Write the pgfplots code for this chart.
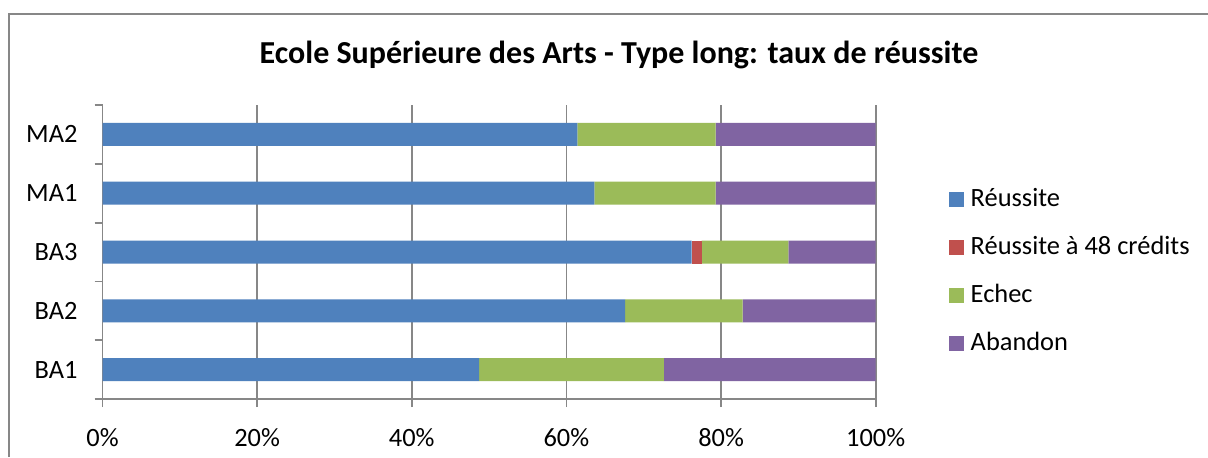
\documentclass[border=0pt]{standalone}
\usepackage{pgfplots}
\pgfplotsset{compat=1.18}
\usepackage{fontspec}
\setmainfont{Carlito}

\definecolor{cBlue}{HTML}{4F81BD}
\definecolor{cRed}{HTML}{C0504D}
\definecolor{cGreen}{HTML}{9BBB59}
\definecolor{cPurple}{HTML}{8064A2}
\definecolor{cAxis}{HTML}{878787}

% 1 px of the reference = 0.5pt
\begin{document}
\begin{tikzpicture}
\useasboundingbox (0,0) rectangle (604pt,228.5pt);
\fill[white] (0,0) rectangle (604pt,228.5pt);
\draw[cAxis, line width=1pt] (4.25pt,0) -- (4.25pt,221.75pt) -- (604pt,221.75pt);

\node[anchor=base, font=\bfseries\fontsize{16}{19}\selectfont] at (309.5pt,197pt)
  {Ecole Supérieure des Arts - Type long: taux de réussite};

\begin{axis}[
  at={(51.25pt,29pt)}, anchor=south west,
  scale only axis,
  width=386.6pt, height=147pt,
  xbar stacked,
  bar width=11.5pt,
  xmin=0, xmax=100,
  ymin=-0.5, ymax=4.5,
  axis lines*=left,
  axis line style={cAxis, line width=0.9pt},
  tick align=outside,
  major tick length=4pt,
  tick style={cAxis, line width=0.9pt},
  xtick={0,20,40,60,80,100},
  xticklabels={0\%,20\%,40\%,60\%,80\%,100\%},
  xmajorgrids,
  grid style={cAxis, line width=0.9pt},
  ytick={-0.5,0.5,1.5,2.5,3.5,4.5},
  yticklabels={},
  extra y ticks={0,1,2,3,4},
  extra y tick labels={BA1,BA2,BA3,MA1,MA2},
  extra y tick style={major tick length=0pt},
  ticklabel style={font=\fontsize{13.2}{15}\selectfont, text=black},
  xticklabel style={yshift=-7pt},
  yticklabel style={xshift=-9pt},
  legend style={
    draw=none, fill=none, inner sep=0pt, outer sep=0pt,
    at={(1.0948,0.7085)}, anchor=north west,
    font=\fontsize{13.2}{15}\selectfont,
    nodes={inner sep=0pt, text height=8pt, text depth=2pt, anchor=base west},
    row sep=14pt,
    /tikz/every odd column/.append style={column sep=3.35pt},
  },
  legend cell align=left,
  legend image code/.code={\fill[#1] (0pt,0pt) rectangle (7.5pt,7.5pt);},
]
\addplot[fill=cBlue, draw=none] coordinates {(48.7,0) (67.6,1) (76.2,2) (63.6,3) (61.4,4)};
\addplot[fill=cRed, draw=none] coordinates {(0,0) (0,1) (1.3,2) (0,3) (0,4)};
\addplot[fill=cGreen, draw=none] coordinates {(23.9,0) (15.2,1) (11.2,2) (15.7,3) (17.9,4)};
\addplot[fill=cPurple, draw=none] coordinates {(27.4,0) (17.2,1) (11.3,2) (20.7,3) (20.7,4)};
\legend{Réussite, Réussite à 48 crédits, Echec, Abandon}
\end{axis}
\end{tikzpicture}
\end{document}
